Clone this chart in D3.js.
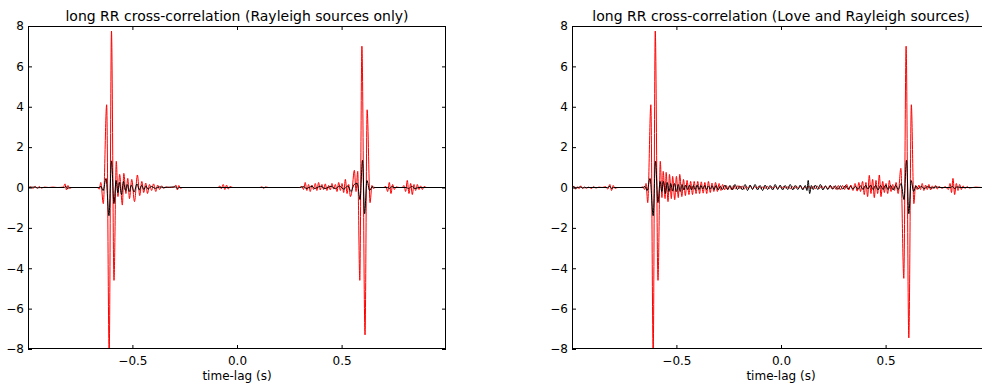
<!DOCTYPE html>
<html>
<head>
<meta charset="utf-8">
<script src="https://cdn.jsdelivr.net/npm/d3@7"></script>
<style>
  body { margin: 0; background: #fff; }
  svg text { font-family: "DejaVu Sans", sans-serif; fill: #000; }
</style>
</head>
<body>
<svg id="chart" width="982" height="385"></svg>
<script>
// ticks / labels
var xTicks = [-0.5, 0.0, 0.5];
var yTicks = [-8, -6, -4, -2, 0, 2, 4, 6, 8];
var titles = ["long RR cross-correlation (Rayleigh sources only)",
              "long RR cross-correlation (Love and Rayleigh sources)"];
var xLabel = "time-lag (s)";

// [time-lag, amplitude]
var leftRed = [
  [-1.0, 0], [-0.985, 0.03], [-0.975, -0.05], [-0.965, 0.06], [-0.955, -0.04], [-0.945, 0.05],
  [-0.935, -0.03], [-0.92, 0.02], [-0.90, 0], [-0.88, 0.02], [-0.86, 0], [-0.83, 0.02],
  [-0.822, 0.18], [-0.815, -0.12], [-0.808, 0.1], [-0.80, -0.05], [-0.79, 0], [-0.668, 0],
  [-0.658, -0.08], [-0.651, 0.25], [-0.639, -0.8], [-0.623, 4.1], [-0.611, -8.3], [-0.600, 7.75],
  [-0.588, -4.6], [-0.577, 1.3], [-0.569, -0.45], [-0.561, 0.65], [-0.548, -0.87], [-0.541, 0.7],
  [-0.531, -0.3], [-0.522, 0.45], [-0.514, -0.55], [-0.503, 0.4], [-0.490, -0.7], [-0.476, 0.62],
  [-0.465, -0.4], [-0.455, 0.3], [-0.446, -0.25], [-0.436, 0.22], [-0.428, -0.3], [-0.418, 0.15],
  [-0.408, -0.15], [-0.399, 0.18], [-0.388, -0.2], [-0.379, 0.12], [-0.370, -0.1], [-0.360, 0.08],
  [-0.350, -0.05], [-0.340, 0.03], [-0.325, 0], [-0.300, 0.02], [-0.292, 0.12], [-0.285, -0.12],
  [-0.278, 0.1], [-0.270, -0.04], [-0.26, 0], [-0.09, 0], [-0.082, 0.08], [-0.075, -0.06],
  [-0.066, 0.15], [-0.058, -0.1], [-0.05, 0.12], [-0.042, -0.08], [-0.034, 0.05], [-0.02, 0],
  [0.11, 0], [0.12, 0.04], [0.128, -0.05], [0.136, 0.03], [0.15, 0], [0.30, 0], [0.31, 0.06],
  [0.318, -0.1], [0.326, 0.25], [0.334, -0.15], [0.342, 0.15], [0.35, -0.2], [0.358, 0.12],
  [0.366, -0.1], [0.374, 0.2], [0.382, -0.15], [0.390, 0.25], [0.398, -0.12], [0.406, 0.15],
  [0.414, -0.1], [0.422, 0.18], [0.43, -0.15], [0.438, 0.1], [0.446, -0.12], [0.454, 0.2],
  [0.462, -0.08], [0.47, 0.15], [0.478, -0.2], [0.486, 0.25], [0.494, -0.15], [0.502, 0.2],
  [0.51, -0.25], [0.518, 0.4], [0.526, -0.3], [0.534, 0.15], [0.542, -0.45], [0.549, -0.2],
  [0.561, 0.85], [0.569, -0.2], [0.577, 0.8], [0.587, -4.6], [0.597, 7.0], [0.612, -7.3],
  [0.622, 3.85], [0.636, -0.75], [0.645, 0.1], [0.652, -0.05], [0.66, 0], [0.70, 0],
  [0.712, 0.05], [0.72, -0.2], [0.728, 0.25], [0.736, -0.3], [0.744, 0.15], [0.752, -0.1],
  [0.76, 0.03], [0.775, 0], [0.79, 0], [0.798, 0.1], [0.806, -0.2], [0.814, 0.35], [0.822, -0.3],
  [0.83, 0.2], [0.838, -0.35], [0.846, 0.15], [0.854, -0.15], [0.862, 0.15], [0.87, -0.1],
  [0.878, 0.08], [0.886, -0.1], [0.894, 0.05], [0.905, 0], [1.0, 0]
];

var leftBlack = [
  [-1.0, 0], [-0.965, 0.02], [-0.955, -0.02], [-0.94, 0], [-0.825, 0], [-0.818, 0.06],
  [-0.81, -0.05], [-0.80, 0], [-0.66, 0], [-0.650, 0.05], [-0.640, -0.15], [-0.626, 0.45],
  [-0.612, -1.4], [-0.600, 1.32], [-0.588, -0.8], [-0.578, 0.35], [-0.570, -0.25], [-0.562, 0.25],
  [-0.552, -0.35], [-0.543, 0.3], [-0.533, -0.15], [-0.525, 0.15], [-0.515, -0.2], [-0.505, 0.12],
  [-0.492, -0.22], [-0.478, 0.18], [-0.467, -0.12], [-0.456, 0.1], [-0.445, -0.1], [-0.435, 0.08],
  [-0.425, -0.08], [-0.41, 0.05], [-0.39, -0.04], [-0.37, 0.03], [-0.35, 0], [-0.295, 0.03],
  [-0.285, -0.04], [-0.275, 0], [0.30, 0], [0.32, 0.04], [0.33, -0.05], [0.36, 0.06],
  [0.37, -0.05], [0.40, 0.06], [0.42, -0.05], [0.45, 0.06], [0.47, -0.06], [0.49, 0.07],
  [0.51, -0.08], [0.53, 0.08], [0.545, -0.2], [0.56, 0.15], [0.575, 0.2], [0.588, -0.6],
  [0.600, 1.35], [0.610, -1.3], [0.621, 0.35], [0.634, -0.15], [0.645, 0.03], [0.66, 0],
  [0.72, 0], [0.73, -0.05], [0.74, 0.05], [0.75, 0], [0.81, 0], [0.82, -0.06], [0.835, 0.06],
  [0.85, -0.05], [0.87, 0], [1.0, 0]
];

var rightRed = [
  [-1.0, 0], [-0.99, 0.06], [-0.982, -0.08], [-0.974, 0.04], [-0.965, -0.06], [-0.957, 0.08],
  [-0.948, -0.05], [-0.94, 0.03], [-0.93, -0.04], [-0.92, 0.02], [-0.905, -0.05], [-0.895, 0.05],
  [-0.885, -0.03], [-0.87, 0.02], [-0.855, 0], [-0.838, 0.04], [-0.828, -0.08], [-0.818, 0.15],
  [-0.81, -0.15], [-0.802, 0.1], [-0.794, -0.04], [-0.78, 0], [-0.67, 0], [-0.66, 0.03],
  [-0.652, -0.1], [-0.645, 0.2], [-0.637, -0.75], [-0.622, 4.1], [-0.611, -8.3], [-0.601, 7.75],
  [-0.588, -4.6], [-0.577, 1.3], [-0.569, -0.5], [-0.563, 0.8], [-0.554, -0.55], [-0.549, 0.75],
  [-0.540, -0.7], [-0.533, 0.65], [-0.524, -0.55], [-0.518, 0.55], [-0.508, -0.6], [-0.500, 0.55],
  [-0.491, -0.5], [-0.484, 0.65], [-0.474, -0.45], [-0.466, 0.4], [-0.457, -0.4], [-0.449, 0.35],
  [-0.440, -0.35], [-0.432, 0.3], [-0.423, -0.35], [-0.415, 0.3], [-0.406, -0.3], [-0.398, 0.3],
  [-0.389, -0.3], [-0.381, 0.28], [-0.372, -0.28], [-0.364, 0.25], [-0.355, -0.3], [-0.347, 0.3],
  [-0.338, -0.25], [-0.330, 0.22], [-0.321, -0.2], [-0.313, 0.25], [-0.304, -0.2], [-0.296, 0.2],
  [-0.287, -0.15], [-0.279, 0.15], [-0.27, -0.12], [-0.262, 0.1], [-0.253, -0.1], [-0.245, 0.08],
  [-0.236, -0.12], [-0.226, 0.1], [-0.216, -0.08], [-0.206, 0.1], [-0.196, -0.06], [-0.186, 0.08],
  [-0.176, -0.08], [-0.166, 0.06], [-0.156, -0.06], [-0.146, 0.08], [-0.136, -0.06], [-0.126, 0.05],
  [-0.116, -0.05], [-0.106, 0.06], [-0.096, -0.05], [-0.086, 0.04], [-0.076, -0.05], [-0.066, 0.06],
  [-0.056, -0.05], [-0.046, 0.05], [-0.036, -0.06], [-0.026, 0.05], [-0.016, -0.04], [-0.006, 0.05],
  [0.004, -0.05], [0.014, 0.06], [0.024, -0.04], [0.034, 0.05], [0.044, -0.06], [0.054, 0.05],
  [0.064, -0.05], [0.074, 0.06], [0.084, -0.05], [0.094, 0.05], [0.104, -0.06], [0.114, 0.05],
  [0.124, -0.05], [0.134, 0.06], [0.144, -0.05], [0.154, 0.05], [0.164, -0.06], [0.174, 0.06],
  [0.184, -0.05], [0.194, 0.08], [0.204, -0.06], [0.214, 0.07], [0.224, -0.08], [0.234, 0.1],
  [0.244, -0.08], [0.254, 0.08], [0.264, -0.1], [0.274, 0.1], [0.284, -0.12], [0.294, 0.1],
  [0.304, -0.1], [0.314, 0.15], [0.324, -0.12], [0.334, 0.12], [0.344, -0.15], [0.354, 0.2],
  [0.364, -0.18], [0.372, 0.25], [0.38, -0.2], [0.39, 0.3], [0.398, -0.35], [0.406, 0.25],
  [0.414, -0.45], [0.422, 0.6], [0.43, -0.3], [0.438, 0.4], [0.446, -0.5], [0.454, 0.35],
  [0.462, -0.3], [0.47, 0.62], [0.478, -0.45], [0.486, 0.3], [0.494, -0.25], [0.502, 0.2],
  [0.51, -0.3], [0.518, 0.35], [0.526, -0.2], [0.534, 0.15], [0.542, -0.15], [0.55, 0.25],
  [0.56, -0.3], [0.573, 0.95], [0.587, -4.5], [0.598, 7.0], [0.611, -7.45], [0.623, 4.1],
  [0.635, -0.8], [0.643, 0.1], [0.651, -0.1], [0.659, 0.12], [0.667, -0.1], [0.675, 0.2],
  [0.683, -0.15], [0.691, 0.12], [0.699, -0.1], [0.707, 0.15], [0.715, -0.12], [0.723, 0.08],
  [0.731, -0.06], [0.739, 0.1], [0.747, -0.08], [0.755, 0.05], [0.77, -0.04], [0.785, 0.04],
  [0.80, -0.1], [0.808, 0.2], [0.815, -0.25], [0.822, 0.45], [0.83, -0.35], [0.838, 0.2],
  [0.846, -0.15], [0.854, 0.15], [0.862, -0.1], [0.87, 0.08], [0.88, -0.05], [0.89, 0.05],
  [0.9, -0.03], [0.93, 0.02], [0.96, 0], [1.0, 0]
];

var rightBlack = [
  [-1.0, 0], [-0.99, 0.03], [-0.98, -0.03], [-0.96, 0.03], [-0.95, -0.02], [-0.93, 0],
  [-0.83, 0], [-0.818, 0.06], [-0.81, -0.05], [-0.80, 0], [-0.66, 0], [-0.650, 0.05],
  [-0.640, -0.15], [-0.626, 0.45], [-0.611, -1.4], [-0.600, 1.3], [-0.588, -0.75], [-0.578, 0.3],
  [-0.570, -0.2], [-0.562, 0.3], [-0.552, -0.3], [-0.544, 0.25], [-0.535, -0.2], [-0.527, 0.2],
  [-0.518, -0.18], [-0.509, 0.2], [-0.500, -0.2], [-0.491, 0.15], [-0.482, -0.2], [-0.473, 0.15],
  [-0.464, -0.12], [-0.455, 0.12], [-0.446, -0.1], [-0.437, 0.12], [-0.428, -0.12], [-0.419, 0.1],
  [-0.41, -0.1], [-0.401, 0.12], [-0.392, -0.1], [-0.383, 0.1], [-0.374, -0.08], [-0.365, 0.1],
  [-0.356, -0.1], [-0.347, 0.08], [-0.338, -0.08], [-0.329, 0.08], [-0.32, -0.1], [-0.31, 0.1],
  [-0.3, -0.12], [-0.29, 0.06], [-0.28, -0.1], [-0.268, 0.12], [-0.256, -0.1], [-0.244, 0.1],
  [-0.232, -0.12], [-0.22, 0.15], [-0.208, -0.1], [-0.196, 0.08], [-0.184, -0.12], [-0.172, 0.15],
  [-0.16, -0.15], [-0.148, 0.12], [-0.136, -0.1], [-0.124, 0.15], [-0.112, -0.12], [-0.1, 0.1],
  [-0.088, -0.15], [-0.076, 0.12], [-0.064, -0.1], [-0.052, 0.1], [-0.04, -0.12], [-0.028, 0.15],
  [-0.016, -0.1], [-0.004, 0.12], [0.008, -0.12], [0.02, 0.1], [0.032, -0.1], [0.044, 0.15],
  [0.056, -0.12], [0.068, 0.1], [0.08, -0.1], [0.092, 0.12], [0.104, -0.12], [0.116, 0.1],
  [0.124, -0.15], [0.13, 0.35], [0.137, -0.3], [0.145, 0.1], [0.154, -0.1], [0.164, 0.12],
  [0.176, -0.1], [0.188, 0.15], [0.2, -0.12], [0.212, 0.08], [0.224, -0.1], [0.236, 0.1],
  [0.248, -0.08], [0.26, 0.08], [0.272, -0.1], [0.284, 0.08], [0.296, -0.08], [0.308, 0.1],
  [0.32, -0.08], [0.332, 0.06], [0.344, -0.08], [0.356, 0.06], [0.368, -0.1], [0.38, 0.08],
  [0.392, -0.1], [0.404, 0.1], [0.416, -0.08], [0.428, 0.12], [0.44, -0.1], [0.452, 0.1],
  [0.464, -0.12], [0.476, 0.1], [0.488, -0.1], [0.5, 0.12], [0.512, -0.1], [0.524, 0.1],
  [0.536, -0.12], [0.548, 0.1], [0.56, -0.1], [0.574, 0.2], [0.588, -0.6], [0.600, 1.35],
  [0.611, -1.3], [0.622, 0.35], [0.634, -0.2], [0.645, 0.08], [0.656, -0.06], [0.67, 0.05],
  [0.685, -0.05], [0.70, 0.04], [0.72, -0.03], [0.74, 0.03], [0.76, 0], [0.81, 0],
  [0.82, 0.06], [0.83, -0.06], [0.84, 0.03], [0.86, 0], [1.0, 0]
];

var svg = d3.select("#chart");
var W = 418, H = 323, top0 = 26;

function drawPanel(x0, title, red, black, id) {
  var x = d3.scaleLinear().domain([-0.999, 0.999]).range([0, W]);
  var y = d3.scaleLinear().domain([-8, 8]).range([H, 0]);

  var g = svg.append("g").attr("transform", "translate(" + x0 + "," + top0 + ")");

  g.append("clipPath").attr("id", "clip" + id)
    .append("rect").attr("width", W).attr("height", H);

  var line = d3.line()
    .x(function(d) { return x(d[0]); })
    .y(function(d) { return y(d[1]); })
    .curve(d3.curveMonotoneX);

  var plot = g.append("g").attr("clip-path", "url(#clip" + id + ")");
  plot.append("path").datum(red)
    .attr("d", line).attr("fill", "none").attr("stroke", "#ff0000").attr("stroke-width", 1);
  plot.append("path").datum(black)
    .attr("d", line).attr("fill", "none").attr("stroke", "#000").attr("stroke-width", 1);

  // inward ticks on all four sides, labels only bottom/left
  var fx = d3.format(".1f"), fy = d3.format("d");
  g.append("g").attr("transform", "translate(0," + H + ")")
    .call(d3.axisBottom(x).tickValues(xTicks).tickFormat(fx).tickSizeInner(-4).tickSizeOuter(0).tickPadding(7));
  g.append("g")
    .call(d3.axisTop(x).tickValues(xTicks).tickFormat("").tickSizeInner(-4).tickSizeOuter(0));
  g.append("g")
    .call(d3.axisLeft(y).tickValues(yTicks).tickFormat(fy).tickSizeInner(-4).tickSizeOuter(0).tickPadding(4));
  g.append("g").attr("transform", "translate(" + W + ",0)")
    .call(d3.axisRight(y).tickValues(yTicks).tickFormat("").tickSizeInner(-4).tickSizeOuter(0));

  g.selectAll(".domain").remove();
  g.selectAll(".tick line").attr("stroke", "#000");
  g.selectAll(".tick text").attr("font-size", 12).attr("font-family", "DejaVu Sans");

  g.append("rect").attr("x", 0.5).attr("y", 0.5).attr("width", W - 1).attr("height", H - 1)
    .attr("fill", "none").attr("stroke", "#000").attr("stroke-width", 1);

  g.append("text").attr("x", W / 2).attr("y", -5)
    .attr("text-anchor", "middle").attr("font-size", 14).text(title);
  g.append("text").attr("x", W / 2).attr("y", H + 31)
    .attr("text-anchor", "middle").attr("font-size", 12).text(xLabel);
}

drawPanel(28, titles[0], leftRed, leftBlack, 0);
drawPanel(572, titles[1], rightRed, rightBlack, 1);
</script>
</body>
</html>
